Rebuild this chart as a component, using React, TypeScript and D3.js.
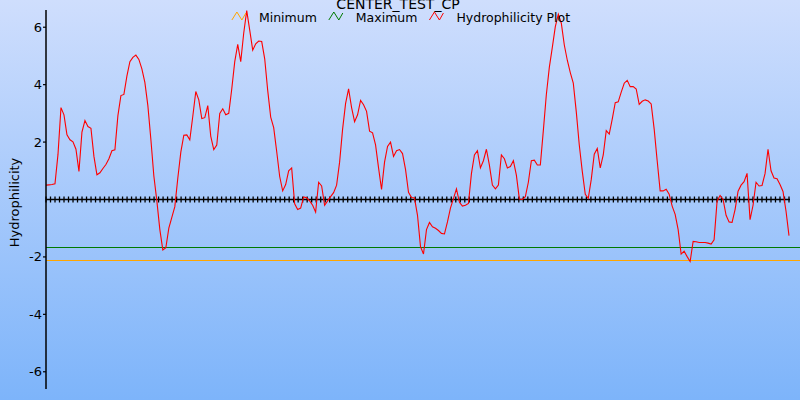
import { useEffect, useRef } from 'react';
import * as d3 from 'd3';

const chartTitle = 'CENTER_TEST_CP';
const yLabel = 'Hydrophilicity';

// hydrophilicity values, uniformly sampled along the sequence
const hydrophilicity: number[] = [
  0.50, 0.51, 0.52, 0.55, 1.57, 3.2, 2.95, 2.25, 2.08, 2.01,
  1.75, 0.98, 2.35, 2.75, 2.54, 2.48, 1.5, 0.86, 0.93, 1.08,
  1.22, 1.42, 1.70, 1.73, 2.92, 3.62, 3.66, 4.3, 4.80, 4.95,
  5.03, 4.88, 4.55, 4.08, 3.27, 2.1, 0.82, -0.05, -1.05, -1.76,
  -1.68, -1.0, -0.62, -0.25, 0.75, 1.65, 2.24, 2.25, 2.08, 2.9,
  3.76, 3.47, 2.82, 2.85, 3.27, 2.2, 1.74, 1.9, 3.0, 3.16,
  2.95, 3.0, 3.85, 4.8, 5.4, 4.8, 5.8, 6.58, 5.9, 5.2,
  5.42, 5.52, 5.5, 4.9, 3.8, 2.87, 2.5, 1.67, 0.8, 0.3,
  0.52, 1.0, 1.1, -0.15, -0.35, -0.3, 0.09, 0.06, -0.05, -0.2,
  -0.44, 0.6, 0.47, -0.2, -0.05, 0.1, 0.24, 0.5, 1.3, 2.45,
  3.35, 3.85, 3.2, 2.71, 2.95, 3.45, 3.3, 3.07, 2.38, 2.32,
  1.9, 1.1, 0.35, 1.3, 1.85, 2.0, 1.5, 1.7, 1.74, 1.6,
  1.05, 0.25, 0.07, 0.05, -0.55, -1.64, -1.9, -1.05, -0.8, -0.95,
  -1.0, -1.08, -1.18, -1.2, -0.78, -0.3, 0.03, 0.37, -0.1, -0.23,
  -0.2, -0.14, 0.9, 1.55, 1.7, 1.1, 1.35, 1.75, 1.2, 0.5,
  0.37, 0.5, 1.55, 1.42, 1.1, 1.15, 1.35, 0.85, 0.02, 0.0,
  0.1, 0.6, 1.35, 1.37, 1.2, 1.2, 2.4, 3.65, 4.6, 5.3,
  6.02, 6.45, 6.14, 5.38, 4.85, 4.42, 4.05, 3.05, 1.9, 0.98,
  0.18, 0.04, 0.7, 1.58, 1.78, 1.1, 1.55, 2.4, 2.28, 2.8,
  3.37, 3.4, 3.74, 4.05, 4.15, 3.93, 3.93, 3.85, 3.31, 3.42,
  3.47, 3.43, 3.33, 2.45, 1.35, 0.3, 0.3, 0.36, 0.18, -0.23,
  -0.52, -1.05, -1.9, -1.8, -1.99, -2.16, -1.46, -1.47, -1.5, -1.5,
  -1.5, -1.52, -1.55, -1.4, -0.05, 0.14, 0.0, -0.55, -0.78, -0.8,
  -0.35, 0.29, 0.5, 0.62, 0.91, -0.7, -0.2, 0.6, 0.47, 0.49,
  0.9, 1.75, 1.0, 0.75, 0.72, 0.52, 0.28, -0.4, -1.26,
];

const residueCount = 166;
const minimumValue = -2.11;
const maximumValue = -1.67;
const yTicks = [6, 4, 2, -2, -4, -6];

const legendItems = [
  { label: 'Minimum', color: '#ffa500' },
  { label: 'Maximum', color: '#007a00' },
  { label: 'Hydrophilicity Plot', color: '#ff0000' },
];

const FONT = 'DejaVu Sans, Verdana, sans-serif';

export default function App() {
  const svgRef = useRef<SVGSVGElement | null>(null);
  const width = 800;
  const height = 400;

  useEffect(() => {
    if (!svgRef.current) return;
    const svg = d3.select(svgRef.current);
    svg.selectAll('*').remove();

    const left = 46;
    const right = 789;
    const top = 10;
    const bottom = 389;

    const x = d3.scaleLinear().domain([0, residueCount - 1]).range([left, right]);
    const y = d3.scaleLinear().domain([-6.6, 6.6]).range([bottom, top]);
    const crisp = (v: number) => Math.round(v) + 0.5;

    // background gradient
    const defs = svg.append('defs');
    const grad = defs.append('linearGradient')
      .attr('id', 'bg')
      .attr('x1', 0).attr('y1', 0).attr('x2', 0).attr('y2', 1);
    grad.append('stop').attr('offset', '0%').attr('stop-color', '#cfdefd');
    grad.append('stop').attr('offset', '100%').attr('stop-color', '#7db4fa');
    svg.append('rect')
      .attr('width', width).attr('height', height)
      .attr('fill', 'url(#bg)');

    // threshold lines
    svg.append('line')
      .attr('x1', left).attr('x2', width)
      .attr('y1', crisp(y(maximumValue))).attr('y2', crisp(y(maximumValue)))
      .attr('stroke', '#007a00').attr('stroke-width', 1);
    svg.append('line')
      .attr('x1', left).attr('x2', width)
      .attr('y1', crisp(y(minimumValue))).attr('y2', crisp(y(minimumValue)))
      .attr('stroke', '#ffa500').attr('stroke-width', 1);

    // zero baseline with residue ticks
    svg.append('line')
      .attr('x1', left).attr('x2', right + 1)
      .attr('y1', y(0)).attr('y2', y(0))
      .attr('stroke', '#000').attr('stroke-width', 1.5);
    svg.append('g')
      .selectAll('line')
      .data(d3.range(residueCount))
      .enter()
      .append('line')
      .attr('x1', d => x(d)).attr('x2', d => x(d))
      .attr('y1', y(0) - 3).attr('y2', y(0) + 3)
      .attr('stroke', '#000').attr('stroke-width', 1.3);

    // hydrophilicity line
    const step = (residueCount - 1) / (hydrophilicity.length - 1);
    const line = d3.line<number>()
      .x((d, i) => x(i * step))
      .y(d => y(d));
    svg.append('path')
      .attr('d', line(hydrophilicity))
      .attr('fill', 'none')
      .attr('stroke', '#ff0000')
      .attr('stroke-width', 1.1);

    // y axis
    const axis = svg.append('g');
    axis.append('line')
      .attr('x1', left).attr('x2', left)
      .attr('y1', top).attr('y2', bottom)
      .attr('stroke', '#000').attr('stroke-width', 1.5);
    const tick = axis.selectAll('.tick')
      .data(yTicks)
      .enter()
      .append('g')
      .attr('class', 'tick')
      .attr('transform', d => `translate(0,${y(d)})`);
    tick.append('line')
      .attr('x1', left - 3).attr('x2', left)
      .attr('stroke', '#000').attr('stroke-width', 1.2);
    tick.append('text')
      .attr('x', left - 4)
      .attr('dy', '0.35em')
      .attr('text-anchor', 'end')
      .style('font-family', FONT)
      .style('font-size', '13px')
      .attr('fill', '#000')
      .text(d => d);

    svg.append('text')
      .attr('transform', `translate(19,${(top + bottom) / 2 + 3}) rotate(-90)`)
      .attr('text-anchor', 'middle')
      .style('font-family', FONT)
      .style('font-size', '13px')
      .attr('fill', '#000')
      .text(yLabel);

    // title
    svg.append('text')
      .attr('x', 398)
      .attr('y', 9)
      .attr('text-anchor', 'middle')
      .style('font-family', FONT)
      .style('font-size', '14px')
      .attr('fill', '#000')
      .text(chartTitle);

    // legend
    const legend = svg.append('g');
    const gap = 12;
    let cursor = 0;
    legendItems.forEach(item => {
      const g = legend.append('g').attr('transform', `translate(${cursor},0)`);
      g.append('polyline')
        .attr('points', '0,20 5,12 10,20 14,13')
        .attr('fill', 'none')
        .attr('stroke', item.color)
        .attr('stroke-width', 1);
      const t = g.append('text')
        .attr('x', 27)
        .attr('y', 22)
        .style('font-family', FONT)
        .style('font-size', '12.5px')
        .attr('fill', '#000')
        .text(item.label);
      const w = (t.node() as SVGTextElement).getComputedTextLength();
      cursor += 27 + w + gap;
    });
    const legendWidth = cursor - gap;
    legend.attr('transform', `translate(${401 - legendWidth / 2},0)`);
  }, []);

  return (
    <svg
      ref={svgRef}
      width={width}
      height={height}
      style={{ position: 'absolute', left: 0, top: 0, display: 'block' }}
    />
  );
}
